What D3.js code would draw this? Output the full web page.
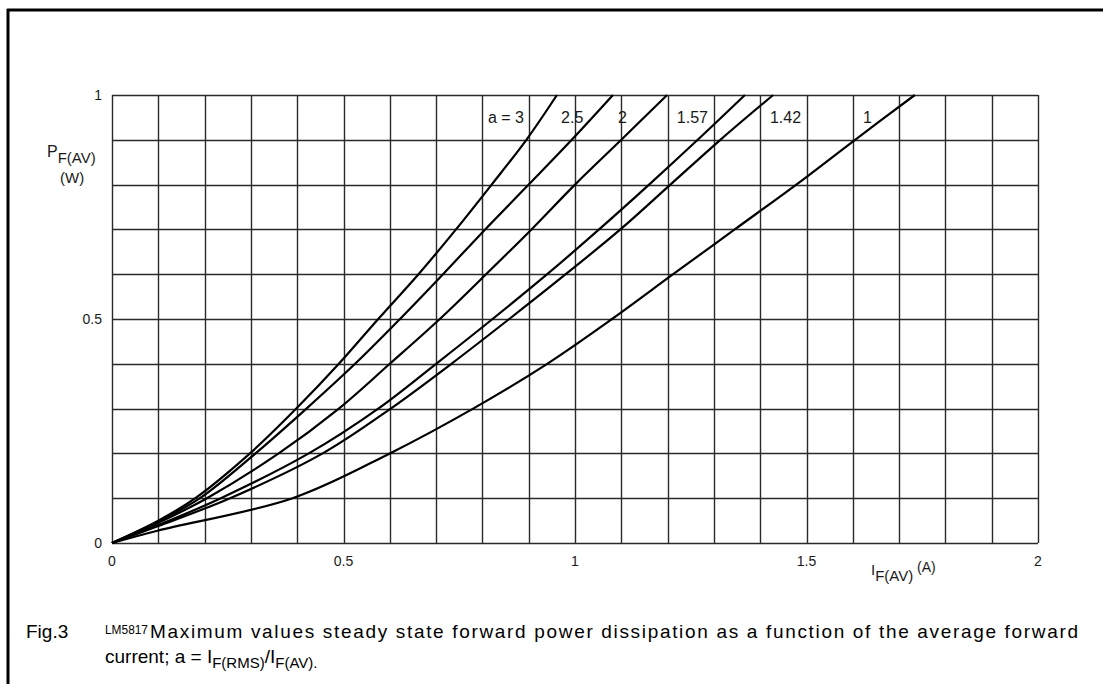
<!DOCTYPE html>
<html>
<head>
<meta charset="utf-8">
<script src="https://cdn.jsdelivr.net/npm/d3@7"></script>
<style>
body { margin: 0; background: #fff; }
svg { display: block; font-family: "Liberation Sans", Arial, sans-serif; }
</style>
</head>
<body>
<svg width="1103" height="684"></svg>
<script>
// P levels (W) read on the grid, and current I (A) where each curve crosses them
var p_levels = [0, 0.1, 0.2, 0.3, 0.4, 0.5, 0.6, 0.7, 0.8, 0.9, 1.0]

var i_a3   = [0, 0.180, 0.298, 0.398, 0.490, 0.575, 0.662, 0.743, 0.820, 0.895, 0.961]
var i_a25  = [0, 0.190, 0.310, 0.420, 0.525, 0.622, 0.715, 0.806, 0.900, 0.993, 1.082]
var i_a2   = [0, 0.205, 0.360, 0.490, 0.600, 0.708, 0.808, 0.906, 1.000, 1.100, 1.199]
var i_a157 = [0, 0.235, 0.425, 0.575, 0.700, 0.822, 0.940, 1.052, 1.160, 1.265, 1.367]
var i_a142 = [0, 0.255, 0.455, 0.602, 0.733, 0.858, 0.980, 1.098, 1.206, 1.314, 1.428]
var i_a1   = [0, 0.390, 0.600, 0.780, 0.940, 1.080, 1.212, 1.345, 1.478, 1.605, 1.734]

// first 0.1 A, where the curves are still bunched together
var low_i = 0.1
var low_p = [0.050, 0.048, 0.045, 0.040, 0.038, 0.028]

var curve_names = ["a = 3", "2.5", "2", "1.57", "1.42", "1"]
var curve_values = [i_a3, i_a25, i_a2, i_a157, i_a142, i_a1]

var x_ticks = [0, 0.5, 1, 1.5, 2]
var x_tick_labels = ["0", "0.5", "1", "1.5", "2"]
var y_ticks = [0, 0.5, 1]
var y_tick_labels = ["0", "0.5", "1"]

/**********
*mise en page
**********/
var plot_left = 112
var plot_right = 1038
var plot_top = 95
var plot_bottom = 543

var x = d3.scaleLinear().domain([0, 2]).range([plot_left, plot_right])
var y = d3.scaleLinear().domain([0, 1]).range([plot_bottom, plot_top])

// where the curve names sit, in amps, along the top row
var name_pos = [0.812, 0.970, 1.093, 1.220, 1.421, 1.622]

var svg = d3.select("svg")

function curve_points(k){
    var pts = [[0, 0], [low_i, low_p[k]]]
    for (var j = 1; j < p_levels.length; j++){
        pts.push([curve_values[k][j], p_levels[j]])
    }
    return pts
}

function display_frame(){
svg.append("line")
  .attr("x1", 7).attr("x2", 1103)
  .attr("y1", 10).attr("y2", 10)
  .attr("stroke", "black")
  .attr("stroke-width", 3)
svg.append("line")
  .attr("x1", 8).attr("x2", 8)
  .attr("y1", 9).attr("y2", 684)
  .attr("stroke", "black")
  .attr("stroke-width", 3)
}

function display_grid(){
var g = svg.append("g").attr("class", "grille")
g.selectAll(".vline")
  .data(d3.range(0, 21).map(function(i){ return i / 10 }))
  .enter()
  .append("line")
  .attr("class", "vline")
  .attr("x1", function(d){ return Math.round(x(d)) + 0.5 })
  .attr("x2", function(d){ return Math.round(x(d)) + 0.5 })
  .attr("y1", plot_top)
  .attr("y2", plot_bottom)
  .attr("stroke", "#2a2a2a")
  .attr("stroke-width", 1.4)
g.selectAll(".hline")
  .data(d3.range(0, 11).map(function(i){ return i / 10 }))
  .enter()
  .append("line")
  .attr("class", "hline")
  .attr("x1", plot_left)
  .attr("x2", plot_right)
  .attr("y1", function(d){ return Math.round(y(d)) + 0.5 })
  .attr("y2", function(d){ return Math.round(y(d)) + 0.5 })
  .attr("stroke", "#2a2a2a")
  .attr("stroke-width", 1.4)
}

function display_ticks(){
svg.append("g")
  .selectAll("text")
  .data(x_ticks)
  .enter()
  .append("text")
  .text(function(d, i){ return x_tick_labels[i] })
  .attr("x", x)
  .attr("y", 566)
  .attr("text-anchor", "middle")
  .attr("font-size", 14)
  .attr("fill", "#1a1a1a")

svg.append("g")
  .selectAll("text")
  .data(y_ticks)
  .enter()
  .append("text")
  .text(function(d, i){ return y_tick_labels[i] })
  .attr("x", 102)
  .attr("y", function(d){ return y(d) + 5 })
  .attr("text-anchor", "end")
  .attr("font-size", 14)
  .attr("fill", "#1a1a1a")
}

function display_axis_titles(){
var t = svg.append("text")
  .attr("x", 47)
  .attr("y", 157)
  .attr("font-size", 16)
  .attr("fill", "#1a1a1a")
t.append("tspan").text("P")
t.append("tspan").text("F(AV)").attr("dy", 6).attr("font-size", 15)

svg.append("text")
  .text("(W)")
  .attr("x", 60)
  .attr("y", 183)
  .attr("font-size", 15)
  .attr("fill", "#1a1a1a")

var u = svg.append("text")
  .attr("x", 871)
  .attr("y", 575)
  .attr("font-size", 15)
  .attr("fill", "#1a1a1a")
u.append("tspan").text("I")
u.append("tspan").text("F(AV)").attr("dy", 6)
u.append("tspan").text(" (A)").attr("dy", -9).attr("font-size", 14)
}

function display_curves(){
var line = d3.line()
  .x(function(d){ return x(d[0]) })
  .y(function(d){ return y(d[1]) })
  .curve(d3.curveCatmullRom.alpha(0.5))

svg.append("g")
  .attr("class", "courbes")
  .selectAll("path")
  .data(curve_values.map(function(v, k){ return curve_points(k) }))
  .enter()
  .append("path")
  .attr("d", line)
  .attr("fill", "none")
  .attr("stroke", "black")
  .attr("stroke-width", 2.2)
  .attr("stroke-linejoin", "round")

svg.append("g")
  .selectAll("text")
  .data(curve_names)
  .enter()
  .append("text")
  .text(function(d){ return d })
  .attr("x", function(d, i){ return x(name_pos[i]) })
  .attr("y", 123)
  .attr("font-size", 16)
  .attr("fill", "#1a1a1a")
}

function display_caption(){
svg.append("text")
  .text("Fig.3")
  .attr("x", 26).attr("y", 638)
  .attr("font-size", 19)
svg.append("text")
  .text("LM5817")
  .attr("x", 105).attr("y", 634)
  .attr("font-size", 12.5)
  .attr("textLength", 43)
  .attr("lengthAdjust", "spacingAndGlyphs")
svg.append("text")
  .text("Maximum values steady state forward power dissipation as a function of the average forward")
  .attr("x", 150).attr("y", 638)
  .attr("font-size", 19)
  .attr("textLength", 928)
  .attr("lengthAdjust", "spacing")

var c = svg.append("text")
  .attr("x", 105).attr("y", 663)
  .attr("font-size", 19)
c.append("tspan").text("current; a = I")
c.append("tspan").text("F(RMS)").attr("dy", 5).attr("font-size", 15)
c.append("tspan").text("/I").attr("dy", -5).attr("font-size", 19)
c.append("tspan").text("F(AV).").attr("dy", 5).attr("font-size", 15)
}

display_frame();
display_grid();
display_curves();
display_ticks();
display_axis_titles();
display_caption();
</script>
</body>
</html>
